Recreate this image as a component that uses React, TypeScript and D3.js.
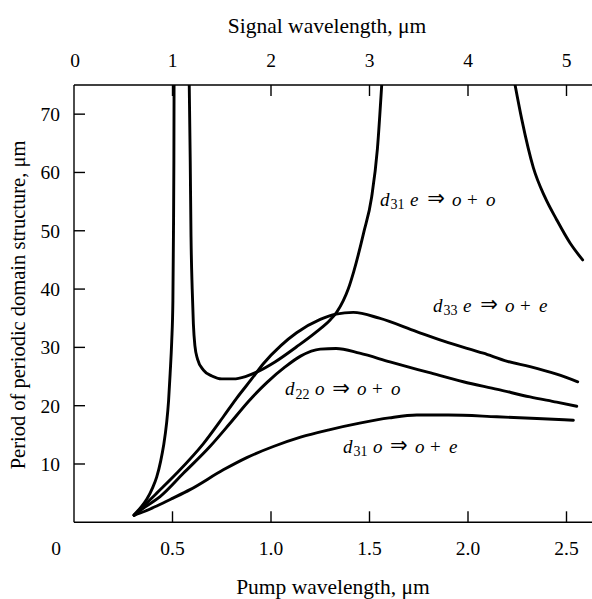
import React from "react";
import * as d3 from "d3";

// Pump wavelength (µm), period (µm)
const d31eLeft: [number, number][] = [
  [0.305, 1.3], [0.34, 2.6], [0.37, 4.0], [0.4, 6.0], [0.42, 7.8], [0.44, 10.5],
  [0.455, 13.2], [0.47, 17.0], [0.48, 20.8], [0.488, 25.5], [0.496, 31], [0.502, 38],
  [0.505, 50], [0.507, 62], [0.508, 75],
];
const d31eMid: [number, number][] = [
  [0.585, 75], [0.59, 62], [0.594, 49], [0.6, 40], [0.606, 34], [0.614, 30.2],
  [0.627, 28], [0.657, 26.1], [0.7, 25.1], [0.75, 24.6], [0.81, 24.6], [0.87, 25],
  [0.93, 25.8], [1.02, 27.5], [1.13, 30.1], [1.232, 32.7], [1.3, 34.7], [1.333, 36.0],
  [1.367, 38.0], [1.392, 40.0], [1.42, 43.0], [1.47, 49.6], [1.511, 55.8], [1.54, 64],
  [1.562, 75],
];
const d31eRight: [number, number][] = [
  [2.239, 75], [2.273, 69.1], [2.332, 60.8], [2.39, 55.8], [2.45, 51.9], [2.518, 47.9],
  [2.582, 45.0],
];
const d33e: [number, number][] = [
  [0.305, 1.2], [0.36, 3.0], [0.42, 5.0], [0.521, 8.4], [0.657, 13.5], [0.758, 18.1],
  [0.826, 21.3], [0.9, 24.5], [0.961, 27.2], [1.05, 30.3], [1.13, 32.5], [1.25, 34.8],
  [1.33, 35.7], [1.418, 36.0], [1.55, 35.0], [1.739, 32.7], [1.9, 30.8], [2.078, 29.0],
  [2.2, 27.6], [2.315, 26.7], [2.45, 25.4], [2.557, 24.1],
];
const d22o: [number, number][] = [
  [0.305, 1.2], [0.36, 2.6], [0.437, 4.4], [0.555, 8.4], [0.69, 13.0], [0.79, 16.9],
  [0.89, 20.9], [0.98, 24.0], [1.07, 26.6], [1.15, 28.5], [1.25, 29.7],
  [1.33, 29.8], [1.45, 29.0], [1.604, 27.5], [1.8, 25.7], [1.976, 24.1], [2.15, 22.8],
  [2.315, 21.5], [2.45, 20.6], [2.552, 19.9],
];
const d31o: [number, number][] = [
  [0.305, 1.2], [0.36, 1.9], [0.42, 2.8], [0.5, 4.1], [0.589, 5.6], [0.758, 9.0],
  [0.877, 11.1], [1.012, 13.0], [1.15, 14.6], [1.3, 15.9], [1.45, 17.0], [1.6, 17.9],
  [1.74, 18.4], [1.9, 18.4], [2.146, 18.1], [2.35, 17.8], [2.535, 17.5],
];

const series = [d31eLeft, d31eMid, d31eRight, d33e, d22o, d31o];

const pumpTicks = [0.5, 1.0, 1.5, 2.0, 2.5];
const pumpTickLabels = ["0.5", "1.0", "1.5", "2.0", "2.5"];
const signalTicks = [0, 1, 2, 3, 4, 5];
const periodTicks = [10, 20, 30, 40, 50, 60, 70];

const curveLabels = [
  { sub: "31", a: "e", b: "o", c: "o", p: 1.553, v: 54.3 },
  { sub: "33", a: "e", b: "o", c: "e", p: 1.822, v: 36.1 },
  { sub: "22", a: "o", b: "o", c: "o", p: 1.071, v: 21.8 },
  { sub: "31", a: "o", b: "o", c: "e", p: 1.365, v: 11.9 },
];

const W = 592;
const H = 599;
const FONT = "'Liberation Serif', 'Times New Roman', serif";

export default function App() {
  const x = d3.scaleLinear().domain([0, 2.5]).range([74, 566.5]);
  const xs = d3.scaleLinear().domain([0, 5]).range([74, 566.5]);
  const y = d3.scaleLinear().domain([0, 75]).range([522.3, 85]);
  const line = d3
    .line<[number, number]>()
    .x((d) => x(d[0]))
    .y((d) => y(d[1]))
    .curve(d3.curveMonotoneX);

  const y0 = y(0);
  const yTop = y(75);
  const x0 = x(0);
  const tick = 11;

  return (
    <svg
      width={W}
      height={H}
      style={{ position: "absolute", left: 0, top: 0, background: "#fff" }}
      fontFamily={FONT}
    >
      <defs>
        <clipPath id="plot">
          <rect x={x0} y={yTop} width={W - x0} height={y0 - yTop} />
        </clipPath>
      </defs>
      {/* frame */}
      <g stroke="#000" strokeWidth={1.4} fill="none">
        <line x1={x0} x2={W} y1={yTop} y2={yTop} />
        <line x1={x0} x2={W} y1={y0} y2={y0} />
        <line x1={x0} x2={x0} y1={yTop} y2={y0} />
        {periodTicks.map((t) => (
          <line key={"l" + t} x1={x0} x2={x0 + tick} y1={y(t)} y2={y(t)} />
        ))}
        {pumpTicks.map((t) => (
          <line key={"b" + t} x1={x(t)} x2={x(t)} y1={y0} y2={y0 - tick} />
        ))}
        {signalTicks.filter((t) => t > 0).map((t) => (
          <line key={"t" + t} x1={xs(t)} x2={xs(t)} y1={yTop} y2={yTop + tick} />
        ))}
      </g>
      {/* tick labels */}
      <g fontSize={19.5} fill="#000">
        {periodTicks.map((t) => (
          <text key={"lt" + t} x={60} y={y(t)} dy="0.35em" textAnchor="end">
            {t}
          </text>
        ))}
        <text x={56} y={555} textAnchor="middle">0</text>
        {pumpTicks.map((t, i) => (
          <text key={"bt" + t} x={x(t)} y={555} textAnchor="middle">
            {pumpTickLabels[i]}
          </text>
        ))}
        {signalTicks.map((t) => (
          <text key={"tt" + t} x={xs(t) + (t === 0 ? 1 : 0)} y={67} textAnchor="middle">
            {t}
          </text>
        ))}
      </g>
      {/* axis titles */}
      <g fill="#000">
        <text x={327} y={33} fontSize={21.5} textAnchor="middle">Signal wavelength, μm</text>
        <text x={333} y={594} fontSize={21.5} textAnchor="middle">Pump wavelength, μm</text>
        <text transform="translate(25,305) rotate(-90)" fontSize={20.5} textAnchor="middle">
          Period of periodic domain structure, μm
        </text>
      </g>
      {/* curves */}
      <g clipPath="url(#plot)" fill="none" stroke="#000" strokeWidth={2.9} strokeLinecap="round" strokeLinejoin="round">
        {series.map((s, i) => (
          <path key={i} d={line(s) || ""} />
        ))}
      </g>
      {/* curve labels */}
      <g fontSize={19} fill="#000">
        {curveLabels.map((l, i) => {
          const bx = x(l.p);
          const by = y(l.v);
          return (
            <g key={i}>
              <text y={by}>
                <tspan x={bx} fontStyle="italic">d</tspan>
                <tspan x={bx + 10.5} y={by + 3.5} fontSize={14}>{l.sub}</tspan>
                <tspan x={bx + 30} y={by} fontStyle="italic">{l.a}</tspan>
                <tspan x={bx + 72} fontStyle="italic">{l.b}</tspan>
                <tspan x={bx + 87}>{"+"}</tspan>
                <tspan x={bx + 106} fontStyle="italic">{l.c}</tspan>
              </text>
              <text
                x={bx + 56}
                y={by - 0.5}
                textAnchor="middle"
                fontFamily="'DejaVu Sans', sans-serif"
                fontSize={21}
              >
                {"\u21D2"}
              </text>
            </g>
          );
        })}
      </g>
    </svg>
  );
}
